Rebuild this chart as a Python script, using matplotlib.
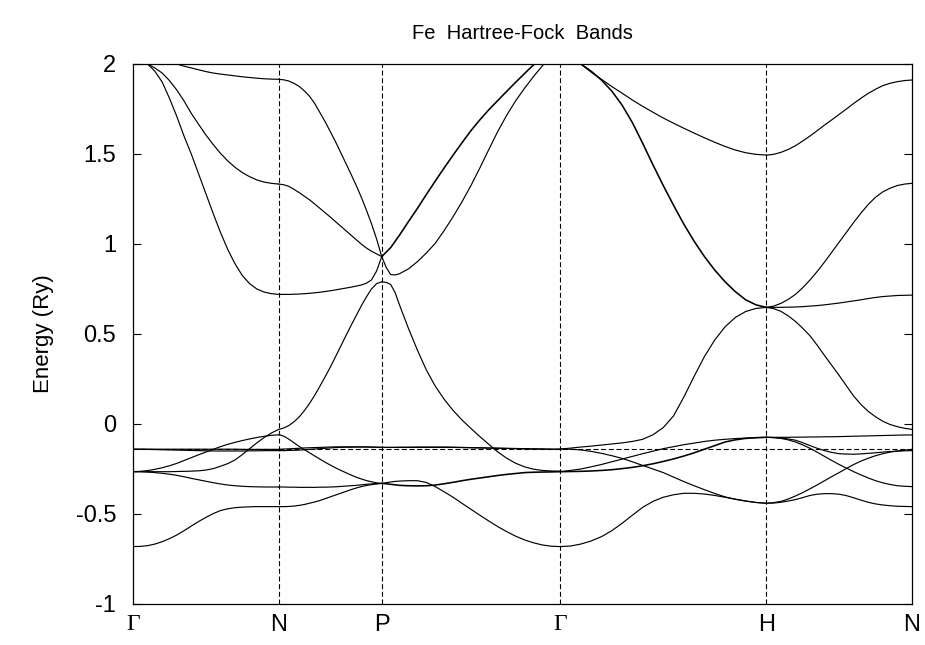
import matplotlib
matplotlib.use("Agg")
import matplotlib.pyplot as plt

plt.rcParams['font.family'] = ['Liberation Sans', 'DejaVu Sans']
plt.rcParams['axes.unicode_minus'] = False

TITLE = "Fe  Hartree-Fock  Bands"
Y_LABEL = "Energy (Ry)"
K_LABELS = ["Γ", "N", "P", "Γ", "H", "N"]
K_POS = [0.0, 0.7071, 1.2071, 2.0731, 3.0731, 3.7802]
E_FERMI = -0.138
Y_TICKS = [-1, -0.5, 0, 0.5, 1, 1.5, 2]
Y_TICK_LABELS = ["-1", "-0.5", "0", "0.5", "1", "1.5", "2"]

T21 = [0.0, 0.05, 0.1, 0.15, 0.2, 0.25, 0.3, 0.35, 0.4, 0.45, 0.5,
       0.55, 0.6, 0.65, 0.7, 0.75, 0.8, 0.85, 0.9, 0.95, 1.0]

# ---- Gamma -> N ----
BANDS_GN = [
    [2.16, 2.13, 2.10, 2.075, 2.05, 2.025, 2.00, 1.988, 1.978, 1.968, 1.958, 1.95, 1.944, 1.939, 1.934, 1.929, 1.925, 1.921, 1.918, 1.916, 1.915],
    [2.03, 2.02, 2.00, 1.978, 1.95, 1.908, 1.856, 1.795, 1.726, 1.665, 1.606, 1.553, 1.504, 1.462, 1.426, 1.397, 1.374, 1.356, 1.344, 1.337, 1.333],
    [2.03, 2.02, 2.00, 1.96, 1.90, 1.81, 1.71, 1.60, 1.50, 1.39, 1.28, 1.17, 1.065, 0.97, 0.89, 0.825, 0.78, 0.75, 0.733, 0.724, 0.720],
    [-0.140, -0.140, -0.140, -0.140, -0.140, -0.140, -0.140, -0.140, -0.140, -0.140, -0.140, -0.140, -0.140, -0.140, -0.140, -0.141, -0.141, -0.141, -0.141, -0.141, -0.141],
    [-0.140, -0.140, -0.141, -0.142, -0.143, -0.144, -0.145, -0.146, -0.147, -0.148, -0.149, -0.150, -0.150, -0.150, -0.150, -0.150, -0.149, -0.149, -0.148, -0.148, -0.148],
    [-0.265, -0.263, -0.259, -0.252, -0.243, -0.232, -0.219, -0.203, -0.187, -0.171, -0.156, -0.141, -0.126, -0.113, -0.102, -0.092, -0.083, -0.075, -0.068, -0.063, -0.060],
    [-0.265, -0.265, -0.265, -0.265, -0.265, -0.265, -0.264, -0.263, -0.262, -0.260, -0.256, -0.248, -0.235, -0.220, -0.200, -0.170, -0.137, -0.105, -0.075, -0.050, -0.030],
    [-0.265, -0.265, -0.267, -0.270, -0.274, -0.279, -0.285, -0.293, -0.302, -0.310, -0.318, -0.326, -0.333, -0.339, -0.343, -0.346, -0.348, -0.349, -0.350, -0.350, -0.350],
    [-0.681, -0.680, -0.676, -0.667, -0.654, -0.637, -0.617, -0.593, -0.567, -0.542, -0.519, -0.498, -0.481, -0.471, -0.465, -0.462, -0.460, -0.459, -0.459, -0.459, -0.459],
]

# ---- N -> P ----
BANDS_NP = [
    [1.915, 1.912, 1.905, 1.892, 1.875, 1.85, 1.82, 1.78, 1.73, 1.68, 1.625, 1.57, 1.51, 1.45, 1.39, 1.328, 1.262, 1.19, 1.113, 1.028, 0.93],
    [1.333, 1.329, 1.32, 1.303, 1.285, 1.265, 1.245, 1.222, 1.198, 1.174, 1.15, 1.125, 1.10, 1.075, 1.05, 1.025, 1.00, 0.978, 0.96, 0.945, 0.93],
    [0.720, 0.720, 0.720, 0.721, 0.722, 0.724, 0.726, 0.729, 0.732, 0.736, 0.740, 0.745, 0.750, 0.755, 0.760, 0.766, 0.772, 0.782, 0.800, 0.850, 0.93],
    [-0.030, -0.022, -0.008, 0.013, 0.040, 0.075, 0.115, 0.160, 0.210, 0.262, 0.315, 0.372, 0.430, 0.488, 0.545, 0.600, 0.655, 0.705, 0.750, 0.780, 0.790],
    [-0.058, -0.068, -0.085, -0.105, -0.125, -0.143, -0.160, -0.178, -0.195, -0.212, -0.228, -0.243, -0.257, -0.270, -0.283, -0.295, -0.305, -0.314, -0.321, -0.327, -0.330],
    [-0.141, -0.139, -0.138, -0.136, -0.135, -0.133, -0.132, -0.131, -0.130, -0.129, -0.128, -0.127, -0.127, -0.127, -0.127, -0.127, -0.127, -0.127, -0.128, -0.129, -0.130],
    [-0.148, -0.148, -0.147, -0.146, -0.145, -0.143, -0.141, -0.139, -0.137, -0.135, -0.133, -0.131, -0.130, -0.129, -0.129, -0.128, -0.128, -0.128, -0.129, -0.129, -0.130],
    [-0.350, -0.350, -0.351, -0.351, -0.352, -0.352, -0.352, -0.352, -0.351, -0.351, -0.350, -0.349, -0.347, -0.345, -0.343, -0.341, -0.338, -0.335, -0.333, -0.331, -0.330],
    [-0.459, -0.459, -0.458, -0.456, -0.452, -0.447, -0.440, -0.433, -0.425, -0.415, -0.405, -0.395, -0.385, -0.375, -0.365, -0.356, -0.348, -0.342, -0.337, -0.333, -0.330],
]

# ---- P -> Gamma ----
T_PG = [0.0, 0.025, 0.05, 0.075, 0.1, 0.15, 0.2, 0.25, 0.3, 0.35, 0.4, 0.45,
        0.5, 0.55, 0.6, 0.65, 0.7, 0.75, 0.8, 0.85, 0.9, 0.95, 1.0]
BANDS_PG = [
    [0.93, 0.955, 0.98, 1.015, 1.05, 1.125, 1.198, 1.275, 1.35, 1.423, 1.494, 1.563, 1.630, 1.690, 1.746, 1.797, 1.848, 1.898, 1.947, 1.995, 2.04, 2.08, 2.12],
    [0.93, 0.87, 0.83, 0.828, 0.835, 0.862, 0.902, 0.95, 1.004, 1.075, 1.152, 1.235, 1.325, 1.423, 1.525, 1.625, 1.715, 1.795, 1.865, 1.93, 1.99, 2.04, 2.08],
    [0.79, 0.787, 0.775, 0.73, 0.66, 0.53, 0.41, 0.30, 0.21, 0.137, 0.075, 0.022, -0.025, -0.07, -0.113, -0.155, -0.19, -0.218, -0.238, -0.251, -0.258, -0.261, -0.262],
    [-0.130, -0.130, -0.130, -0.130, -0.129, -0.129, -0.128, -0.128, -0.128, -0.128, -0.129, -0.130, -0.131, -0.132, -0.133, -0.134, -0.135, -0.136, -0.137, -0.138, -0.139, -0.140, -0.140],
    [-0.130, -0.130, -0.130, -0.130, -0.130, -0.130, -0.130, -0.130, -0.130, -0.130, -0.130, -0.131, -0.132, -0.133, -0.134, -0.135, -0.136, -0.137, -0.138, -0.139, -0.139, -0.140, -0.140],
    [-0.330, -0.332, -0.335, -0.338, -0.341, -0.343, -0.344, -0.343, -0.339, -0.332, -0.324, -0.315, -0.307, -0.300, -0.293, -0.286, -0.280, -0.275, -0.270, -0.268, -0.267, -0.266, -0.265],
    [-0.330, -0.326, -0.322, -0.319, -0.317, -0.315, -0.315, -0.325, -0.348, -0.377, -0.407, -0.441, -0.474, -0.507, -0.539, -0.570, -0.598, -0.623, -0.644, -0.660, -0.672, -0.679, -0.681],
]

# ---- Gamma -> H ----
BANDS_GH = [
    [2.12, 2.06, 2.00, 1.955, 1.915, 1.875, 1.838, 1.80, 1.765, 1.732, 1.700, 1.671, 1.643, 1.616, 1.59, 1.565, 1.542, 1.522, 1.507, 1.498, 1.494],
    [2.12, 2.06, 2.00, 1.96, 1.911, 1.85, 1.772, 1.675, 1.56, 1.44, 1.325, 1.215, 1.11, 1.015, 0.93, 0.855, 0.79, 0.735, 0.69, 0.662, 0.648],
    [-0.139, -0.134, -0.128, -0.123, -0.117, -0.111, -0.105, -0.097, -0.085, -0.060, -0.020, 0.045, 0.15, 0.265, 0.375, 0.467, 0.54, 0.592, 0.625, 0.642, 0.648],
    [-0.139, -0.140, -0.144, -0.152, -0.163, -0.176, -0.191, -0.210, -0.230, -0.250, -0.270, -0.295, -0.320, -0.343, -0.365, -0.386, -0.405, -0.418, -0.428, -0.436, -0.440],
    [-0.265, -0.258, -0.250, -0.238, -0.225, -0.210, -0.195, -0.180, -0.165, -0.151, -0.137, -0.126, -0.115, -0.106, -0.097, -0.090, -0.085, -0.081, -0.078, -0.076, -0.074],
    [-0.265, -0.264, -0.263, -0.261, -0.258, -0.254, -0.248, -0.241, -0.232, -0.221, -0.208, -0.194, -0.178, -0.160, -0.140, -0.120, -0.100, -0.088, -0.080, -0.076, -0.074],
    [-0.681, -0.678, -0.667, -0.650, -0.626, -0.593, -0.552, -0.507, -0.463, -0.430, -0.407, -0.393, -0.385, -0.385, -0.389, -0.397, -0.407, -0.418, -0.428, -0.436, -0.440],
]

# ---- H -> N ----
BANDS_HN = [
    [1.494, 1.498, 1.509, 1.525, 1.546, 1.572, 1.600, 1.630, 1.661, 1.690, 1.720, 1.750, 1.781, 1.810, 1.837, 1.860, 1.880, 1.893, 1.902, 1.908, 1.911],
    [0.648, 0.655, 0.670, 0.692, 0.720, 0.757, 0.800, 0.848, 0.900, 0.955, 1.010, 1.065, 1.120, 1.172, 1.220, 1.260, 1.290, 1.310, 1.325, 1.333, 1.337],
    [0.648, 0.648, 0.648, 0.649, 0.650, 0.652, 0.655, 0.658, 0.662, 0.667, 0.672, 0.678, 0.684, 0.690, 0.697, 0.703, 0.708, 0.711, 0.714, 0.715, 0.716],
    [0.648, 0.641, 0.626, 0.601, 0.570, 0.532, 0.490, 0.437, 0.380, 0.325, 0.270, 0.212, 0.155, 0.108, 0.070, 0.040, 0.015, -0.003, -0.015, -0.024, -0.030],
    [-0.074, -0.074, -0.074, -0.074, -0.073, -0.073, -0.072, -0.072, -0.071, -0.071, -0.070, -0.069, -0.068, -0.067, -0.066, -0.065, -0.064, -0.063, -0.062, -0.061, -0.061],
    [-0.074, -0.075, -0.078, -0.083, -0.090, -0.104, -0.120, -0.135, -0.148, -0.158, -0.165, -0.167, -0.168, -0.166, -0.163, -0.160, -0.156, -0.153, -0.151, -0.149, -0.148],
    [-0.074, -0.076, -0.080, -0.088, -0.100, -0.116, -0.135, -0.157, -0.180, -0.203, -0.225, -0.245, -0.265, -0.283, -0.300, -0.315, -0.327, -0.336, -0.343, -0.346, -0.348],
    [-0.440, -0.439, -0.435, -0.428, -0.420, -0.409, -0.397, -0.390, -0.387, -0.387, -0.390, -0.398, -0.410, -0.423, -0.435, -0.444, -0.450, -0.454, -0.457, -0.458, -0.459],
    [-0.440, -0.437, -0.430, -0.417, -0.400, -0.381, -0.360, -0.338, -0.315, -0.292, -0.270, -0.247, -0.225, -0.206, -0.190, -0.176, -0.165, -0.156, -0.150, -0.145, -0.141],
]

SEGMENTS = [(0, T21, BANDS_GN), (1, T21, BANDS_NP), (2, T_PG, BANDS_PG),
            (3, T21, BANDS_GH), (4, T21, BANDS_HN)]

# doubly degenerate bands drawn a little heavier (segment index, band index)
HEAVY = {(2, 0), (2, 5), (3, 1), (3, 5)}

fig = plt.figure(figsize=(9.25, 6.45), dpi=100)
ax = fig.add_axes([133 / 925, 41 / 645, 779 / 925, 540 / 645])

for i, tgrid, bands in SEGMENTS:
    x0, x1 = K_POS[i], K_POS[i + 1]
    xs = [x0 + t * (x1 - x0) for t in tgrid]
    for j, b in enumerate(bands):
        lw = 1.15 if (i, j) in HEAVY else 0.85
        ax.plot(xs, b, color='black', lw=lw, solid_joinstyle='round',
                solid_capstyle='round')

dash = (0, (4.5, 2.4))
for k in K_POS[1:-1]:
    ax.axvline(k, color='black', lw=0.8, ls=dash)
ax.axhline(E_FERMI, color='black', lw=0.8, ls=dash)

ax.set_xlim(K_POS[0], K_POS[-1])
ax.set_ylim(-1, 2)
ax.set_yticks(Y_TICKS)
ax.set_yticklabels(Y_TICK_LABELS, fontsize=17)
ax.set_xticks(K_POS)
ax.set_xticklabels(K_LABELS, fontsize=17)
for lbl in ax.get_xticklabels():
    if lbl.get_text() == "Γ":
        lbl.set_fontfamily(['Liberation Serif', 'DejaVu Serif'])
ax.tick_params(axis='y', direction='in', length=6, width=0.8, right=True, pad=12)
ax.tick_params(axis='x', direction='in', length=0, pad=7)
for s in ax.spines.values():
    s.set_linewidth(0.9)

ax.set_ylabel(Y_LABEL, fontsize=16, labelpad=16)
ax.set_title(TITLE, fontsize=14.5, pad=18)

fig.savefig("out.png", dpi=100)
